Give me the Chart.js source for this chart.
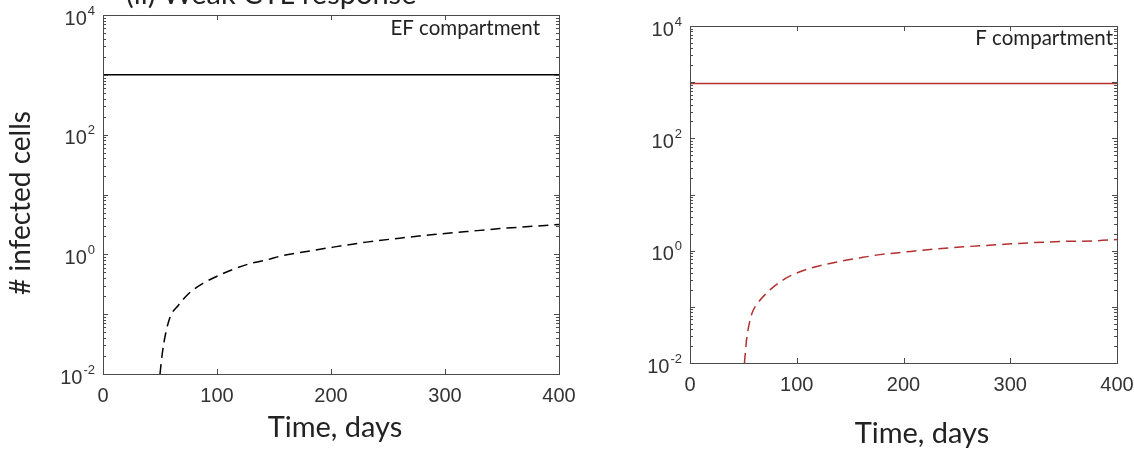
<!DOCTYPE html>
<html><head><meta charset="utf-8">
<script src="https://cdn.jsdelivr.net/npm/chart.js@4.4.1/dist/chart.umd.min.js"></script>
<style>
html,body{margin:0;padding:0;background:#fff;}
#wrap{position:relative;width:1134px;height:451px;overflow:hidden;background:#fff;}
.panel{position:absolute;top:0;height:451px;}
#p1{left:0;width:600px;}
#p2{left:600px;width:560px;}
canvas{display:block;}
</style></head><body>
<div id="wrap">
<div class="panel" id="p1"><canvas id="c1" width="600" height="451"></canvas></div>
<div class="panel" id="p2"><canvas id="c2" width="560" height="451"></canvas></div>
</div>
<script>
// ---- text ----
const figureTitle = '(ii) Weak CTL response';
const yAxisTitle = '# infected cells';
const xAxisTitle = 'Time, days';
const efLabel = 'EF compartment';
const fLabel = 'F compartment';

// ---- ticks ----
const xTicks = [0, 100, 200, 300, 400];
const yTickExponents = [-2, 0, 2, 4];

// ---- EF compartment (left) ----
const efSolidDays = [0, 400];
const efSolidCells = [1000, 1000];
const efDashedDays = [50, 52, 55, 59, 66, 75, 88, 100, 114, 129, 144, 158, 173, 202, 231, 260, 290, 319, 348, 378, 400];
const efDashedCells = [0.01, 0.022, 0.048, 0.091, 0.14, 0.22, 0.33, 0.43, 0.56, 0.70, 0.81, 0.96, 1.07, 1.32, 1.60, 1.86, 2.14, 2.40, 2.69, 2.95, 3.16];

// ---- F compartment (right) ----
const fSolidDays = [0, 400];
const fSolidCells = [950, 950];
const fDashedDays = [51, 53, 55, 58, 64, 75, 87, 100, 115, 131, 147, 162, 178, 200, 225, 256, 287, 318, 350, 381, 400];
const fDashedCells = [0.01, 0.026, 0.045, 0.076, 0.12, 0.20, 0.30, 0.40, 0.50, 0.59, 0.68, 0.76, 0.85, 0.94, 1.05, 1.17, 1.27, 1.38, 1.46, 1.50, 1.58];

const pts = (xs, ys) => xs.map((x, i) => ({x: x, y: ys[i]}));

const decorPlugin = {
  id: 'decor',
  afterDraw(chart, args, o) {
    const ctx = chart.ctx;
    const a = chart.chartArea;
    const xs = chart.scales.x, ys = chart.scales.y;
    ctx.save();
    // frame
    ctx.strokeStyle = '#4a4a4a';
    ctx.lineWidth = 1;
    ctx.strokeRect(Math.round(a.left) + 0.5, Math.round(a.top) + 0.5, Math.round(a.right - a.left), Math.round(a.bottom - a.top));
    // x ticks (inward, bottom and top)
    ctx.beginPath();
    xTicks.forEach(v => {
      const px = Math.round(xs.getPixelForValue(v)) + 0.5;
      ctx.moveTo(px, a.bottom); ctx.lineTo(px, a.bottom - 5);
      ctx.moveTo(px, a.top); ctx.lineTo(px, a.top + 5);
    });
    // y ticks (log, major + minor, inward both sides)
    const eMin = yTickExponents[0], eMax = yTickExponents[yTickExponents.length - 1];
    for (let e = eMin; e <= eMax; e++) {
      for (let m = 1; m <= 9; m++) {
        const v = m * Math.pow(10, e);
        if (v > Math.pow(10, eMax)) break;
        const py = Math.round(ys.getPixelForValue(v)) + 0.5;
        const len = (m === 1) ? 5 : 3;
        ctx.moveTo(a.left, py); ctx.lineTo(a.left + len, py);
        ctx.moveTo(a.right, py); ctx.lineTo(a.right - len, py);
      }
    }
    ctx.stroke();
    // y tick labels: 10 with superscript exponent
    ctx.fillStyle = '#333';
    ctx.textBaseline = 'middle';
    yTickExponents.forEach(e => {
      const py = ys.getPixelForValue(Math.pow(10, e));
      ctx.font = '13px "Liberation Sans"';
      const expTxt = (e < 0 ? '-' : '') + Math.abs(e);
      const we = ctx.measureText(expTxt).width;
      const rightEdge = a.left - 8;
      ctx.textAlign = 'right';
      ctx.fillText(expTxt, rightEdge, py - 4);
      ctx.font = '20px "Liberation Sans"';
      ctx.fillText('10', rightEdge - we - 1, py + 4);
    });
    // in-plot compartment label
    ctx.fillStyle = '#222';
    ctx.font = o.labelFont;
    ctx.textAlign = 'right';
    ctx.textBaseline = 'middle';
    ctx.fillText(o.label, a.right - o.labelInset, o.labelY);
    // x axis title
    ctx.font = '29px Lato';
    ctx.textAlign = 'center';
    ctx.fillText(xAxisTitle, o.xTitleX, o.xTitleY);
    // y axis title
    if (o.yTitle) {
      ctx.save();
      ctx.translate(o.yTitleX, o.yTitleY);
      ctx.rotate(-Math.PI / 2);
      ctx.font = '28px Lato';
      ctx.textAlign = 'center';
      ctx.fillText(yAxisTitle, 0, 0);
      ctx.restore();
    }
    // figure title (partially cut off at top)
    if (o.figTitle) {
      ctx.font = '29px Lato';
      ctx.textAlign = 'left';
      ctx.textBaseline = 'alphabetic';
      ctx.fillText(figureTitle, 126, 4);
    }
    ctx.restore();
  }
};

function makeChart(id, cfg) {
  return new Chart(document.getElementById(id), {
    type: 'line',
    data: {
      datasets: [
        { data: pts(cfg.solidDays, cfg.solidCells), borderColor: cfg.solidColor, borderWidth: 1.5, pointRadius: 0, fill: false },
        { data: pts(cfg.dashDays, cfg.dashCells), borderColor: cfg.dashColor, borderWidth: 1.5, borderDash: [10, 6], pointRadius: 0, fill: false, cubicInterpolationMode: 'monotone' }
      ]
    },
    options: {
      responsive: false,
      animation: false,
      devicePixelRatio: 1,
      layout: { padding: { left: 0, right: cfg.padRight, top: cfg.padTop, bottom: 0 } },
      plugins: {
        legend: { display: false },
        tooltip: { enabled: false },
        decor: cfg.decor
      },
      scales: {
        x: {
          type: 'linear', min: 0, max: 400,
          afterBuildTicks: s => { s.ticks = xTicks.map(v => ({ value: v })); },
          ticks: { font: { family: 'Liberation Sans', size: 20 }, color: '#333', padding: cfg.xTickPad, maxRotation: 0, autoSkip: false },
          grid: { display: false, drawTicks: false },
          border: { display: false },
          afterFit: s => { s.height = cfg.xHeight; }
        },
        y: {
          type: 'logarithmic',
          min: Math.pow(10, yTickExponents[0]),
          max: Math.pow(10, yTickExponents[yTickExponents.length - 1]),
          ticks: { display: false },
          grid: { display: false, drawTicks: false },
          border: { display: false },
          afterFit: s => { s.width = cfg.yWidth; }
        }
      }
    },
    plugins: [decorPlugin]
  });
}

makeChart('c1', {
  solidDays: efSolidDays, solidCells: efSolidCells, dashDays: efDashedDays, dashCells: efDashedCells,
  solidColor: '#000000', dashColor: '#000000',
  padRight: 41, padTop: 15, yWidth: 103, xHeight: 77, xTickPad: 10,
  decor: { label: efLabel, labelFont: '20.5px Lato', labelInset: 19, labelY: 28,
           xTitleX: 335, xTitleY: 428, yTitle: true, yTitleX: 21, yTitleY: 203, figTitle: true }
});

makeChart('c2', {
  solidDays: fSolidDays, solidCells: fSolidCells, dashDays: fDashedDays, dashCells: fDashedCells,
  solidColor: '#b3302e', dashColor: '#b3302e',
  padRight: 43, padTop: 26, yWidth: 90, xHeight: 88, xTickPad: 10,
  decor: { label: fLabel, labelFont: '20.5px Lato', labelInset: 4, labelY: 38,
           xTitleX: 322, xTitleY: 434, yTitle: false, figTitle: false }
});
</script>
</body></html>
